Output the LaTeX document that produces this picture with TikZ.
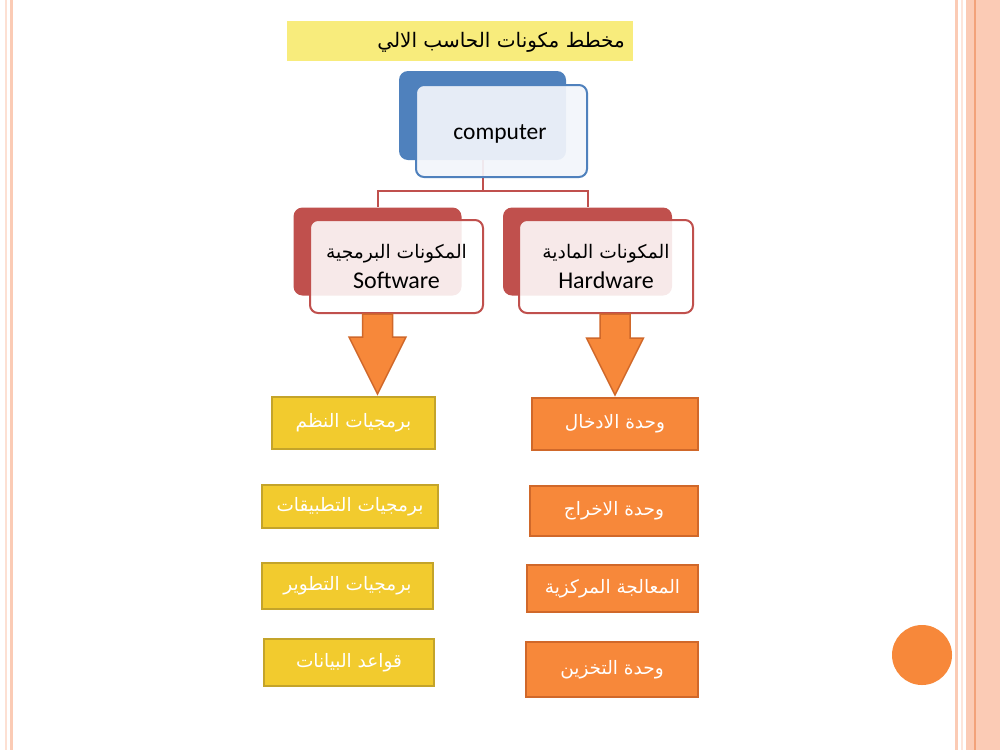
\documentclass[tikz,border=0pt]{standalone}
\usepackage{fontspec}
\TeXXeTstate=1
\newfontfamily\arabicfont[Script=Arabic]{DejaVu Sans}
\newfontfamily\latinfont{Carlito}
\usetikzlibrary{calc}
\definecolor{peach}{HTML}{FBCBB5}
\definecolor{peachdark}{HTML}{F2A27A}
\definecolor{titleyellow}{HTML}{F8EC7C}
\definecolor{cblue}{HTML}{4F81BD}
\definecolor{cfront}{HTML}{F3F6FB}
\definecolor{cred}{HTML}{C0504D}
\definecolor{byellow}{HTML}{F2CB2E}
\definecolor{byellowb}{HTML}{C4A42A}
\definecolor{borange}{HTML}{F7883A}
\definecolor{borangeb}{HTML}{D0682A}
\tikzset{
  backbox/.style={rounded corners=9pt, minimum width=#1, inner sep=0pt},
  frontbox/.style={rounded corners=8pt, line width=2pt, inner sep=0pt},
  ybox/.style={fill=byellow, draw=byellowb, line width=2pt, inner sep=0pt, text=white,
     font=\arabicfont\fontsize{18.5}{22}\selectfont},
  obox/.style={fill=borange, draw=borangeb, line width=2pt, inner sep=0pt, text=white,
     font=\arabicfont\fontsize{18.5}{22}\selectfont},
  conn/.style={draw=cred, line width=2pt},
  barrow/.style={fill=borange, draw=borangeb, line width=1.5pt, line join=miter}
}
\begin{document}
\begin{tikzpicture}[x=1pt,y=-1pt]
\useasboundingbox (0,0) rectangle (1000,750);
\fill[white] (0,0) rectangle (1000,750);
% side decorations
\fill[peach!60] (5,0) rectangle (6.5,750);
\fill[peach] (9.5,0) rectangle (12.5,750);
\fill[peach] (955,0) rectangle (958,750);
\fill[peach!50] (961,0) rectangle (962.5,750);
\fill[peach] (966,0) rectangle (1000,750);
\fill[peachdark] (973.5,0) rectangle (975.5,750);
\fill[borange] (922,655) circle (30);
% title
\node[fill=titleyellow, minimum width=346pt, minimum height=40pt, inner sep=0pt] (title) at (460,41) {};
\node[anchor=east, inner sep=0pt, font=\arabicfont\fontsize{20}{24}\selectfont] (titletext) at (625,42) {\beginR مخطط مكونات الحاسب الالي\endR};
% back boxes
\node[backbox=167pt, fill=cblue, minimum height=89pt] (cb) at (482.5,115.5) {};
\node[backbox=168pt, fill=cred, minimum height=88pt] (sb) at (377.5,251.5) {};
\node[backbox=169pt, fill=cred, minimum height=88pt] (hb) at (587.5,251.5) {};
% connectors
\coordinate (split) at ($(cb.south)+(0,31)$);
\draw[conn] (cb.south) -- (split) -| (sb.north);
\draw[conn] (split) -| (hb.north);
% front boxes
\node[frontbox, draw=cblue, fill=cfront, fill opacity=0.92, text opacity=1, minimum width=171pt, minimum height=92pt,
  font=\latinfont\fontsize{23.5}{26}\selectfont] (cf) at (501.5,131) {};
\node[inner sep=0pt, font=\latinfont\fontsize{23.5}{26}\selectfont, anchor=base] (cftext) at (500,139) {computer};
\node[frontbox, draw=cred, fill=white, fill opacity=0.88, text opacity=1, minimum width=173pt, minimum height=93pt,
  align=center] (sf) at (396.5,266.5)
  {{\arabicfont\fontsize{18.7}{22}\selectfont\beginR المكونات البرمجية\endR}\\[8pt]{\latinfont\fontsize{24}{26}\selectfont Software}};
\node[frontbox, draw=cred, fill=white, fill opacity=0.88, text opacity=1, minimum width=174pt, minimum height=93pt,
  align=center] (hf) at (606,266.5)
  {{\arabicfont\fontsize{18.7}{22}\selectfont\beginR المكونات المادية\endR}\\[8pt]{\latinfont\fontsize{24}{26}\selectfont Hardware}};
% lower boxes
\node[ybox, minimum width=163pt, minimum height=52pt] (y1) at (353.5,423) {\beginR برمجيات النظم\endR};
\node[ybox, minimum width=176pt, minimum height=43pt] (y2) at (350,506.5) {\beginR برمجيات التطبيقات\endR};
\node[ybox, minimum width=171pt, minimum height=46pt] (y3) at (347.5,586) {\beginR برمجيات التطوير\endR};
\node[ybox, minimum width=170pt, minimum height=47pt] (y4) at (349,662.5) {\beginR قواعد البيانات\endR};
\node[obox, minimum width=166pt, minimum height=52pt] (o1) at (615,424) {\beginR وحدة الادخال\endR};
\node[obox, minimum width=168pt, minimum height=50pt] (o2) at (614,511) {\beginR وحدة الاخراج\endR};
\node[obox, minimum width=171pt, minimum height=47pt] (o3) at (612.5,588.5) {\beginR المعالجة المركزية\endR};
\node[obox, minimum width=172pt, minimum height=55pt] (o4) at (612,669.5) {\beginR وحدة التخزين\endR};
% block arrows
\coordinate (a1t) at (sf.south -| sb.south);
\coordinate (a1b) at ($(y1.north -| sb.south)+(0,-2)$);
\coordinate (a2t) at (hf.south -| o1.north);
\coordinate (a2b) at ($(o1.north)+(0,-2)$);
\draw[barrow] ($(a1t)+(-15,0)$) -- ($(a1t)+(15,0)$) -- ($(a1b)+(15,-57)$) -- ($(a1b)+(28.5,-57)$)
  -- (a1b) -- ($(a1b)+(-28.5,-57)$) -- ($(a1b)+(-15,-57)$) -- cycle;
\draw[barrow] ($(a2t)+(-15,0)$) -- ($(a2t)+(15,0)$) -- ($(a2b)+(15,-57)$) -- ($(a2b)+(28.5,-57)$)
  -- (a2b) -- ($(a2b)+(-28.5,-57)$) -- ($(a2b)+(-15,-57)$) -- cycle;
\end{tikzpicture}
\end{document}
